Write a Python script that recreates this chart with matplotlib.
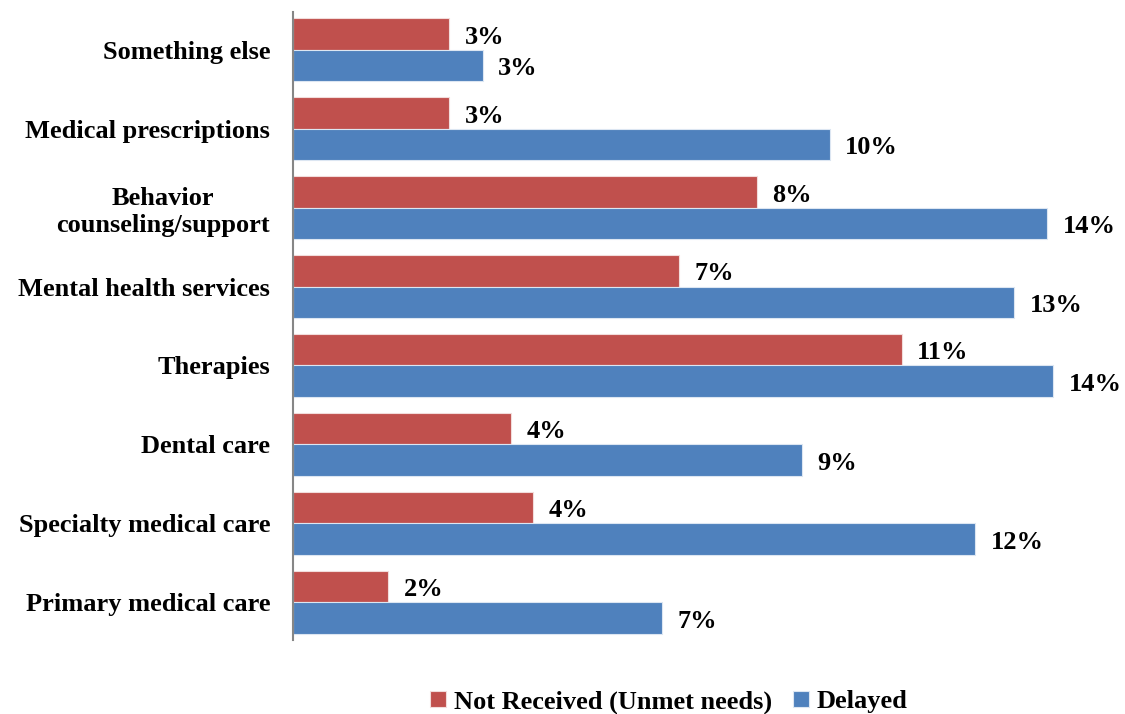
import numpy as np
import matplotlib
matplotlib.use("Agg")
import matplotlib.pyplot as plt

plt.rcParams["font.family"] = ["Liberation Serif", "DejaVu Serif"]
plt.rcParams["font.weight"] = "bold"

categories = ["Something else", "Medical prescriptions", "Behavior\ncounseling/support",
              "Mental health services", "Therapies", "Dental care",
              "Specialty medical care", "Primary medical care"]
not_received = [2.84, 2.84, 8.44, 7.02, 11.07, 3.96, 4.36, 1.73]
delayed = [3.45, 9.76, 13.71, 13.11, 13.82, 9.25, 12.4, 6.71]

RED = "#C0504D"
BLUE = "#4F81BD"
FS = 19

fig = plt.figure(figsize=(11.25, 7.14), dpi=100)
ax = fig.add_axes([293 / 1125, 1 - 640 / 714, 825 / 1125, 628 / 714])

y = np.arange(len(categories))
h = 0.4
b1 = ax.barh(y - h / 2, not_received, height=h, color=RED, edgecolor="#F2DCDB", linewidth=0.8,
             label="Not Received (Unmet needs)")
b2 = ax.barh(y + h / 2, delayed, height=h, color=BLUE, edgecolor="#DCE6F2", linewidth=0.8,
             label="Delayed")

for bars, vals in ((b1, not_received), (b2, delayed)):
    for bar, v in zip(bars, vals):
        ax.text(v + 0.28, bar.get_y() + bar.get_height() / 2 + 0.04, f"{round(v)}%",
                va="center", ha="left", fontsize=FS, fontweight="bold")

ax.set_xlim(0, 15)
ax.set_ylim(len(categories) - 0.52, -0.48)
ax.set_yticks(y)
ax.set_yticklabels(categories, fontsize=FS, fontweight="bold", multialignment="center")
ax.tick_params(axis="y", length=0, pad=16.5)
ax.set_xticks([])
for s in ("top", "right", "bottom"):
    ax.spines[s].set_visible(False)
ax.spines["left"].set_color("#868686")
ax.spines["left"].set_linewidth(1.5)

fig.legend(handles=[b1, b2], loc="center", bbox_to_anchor=(669 / 1125, 12 / 714), ncol=2,
           frameon=False, fontsize=FS, handlelength=0.6, handleheight=0.6,
           handletextpad=0.3, columnspacing=0.8)

fig.savefig("out.png", dpi=100)
